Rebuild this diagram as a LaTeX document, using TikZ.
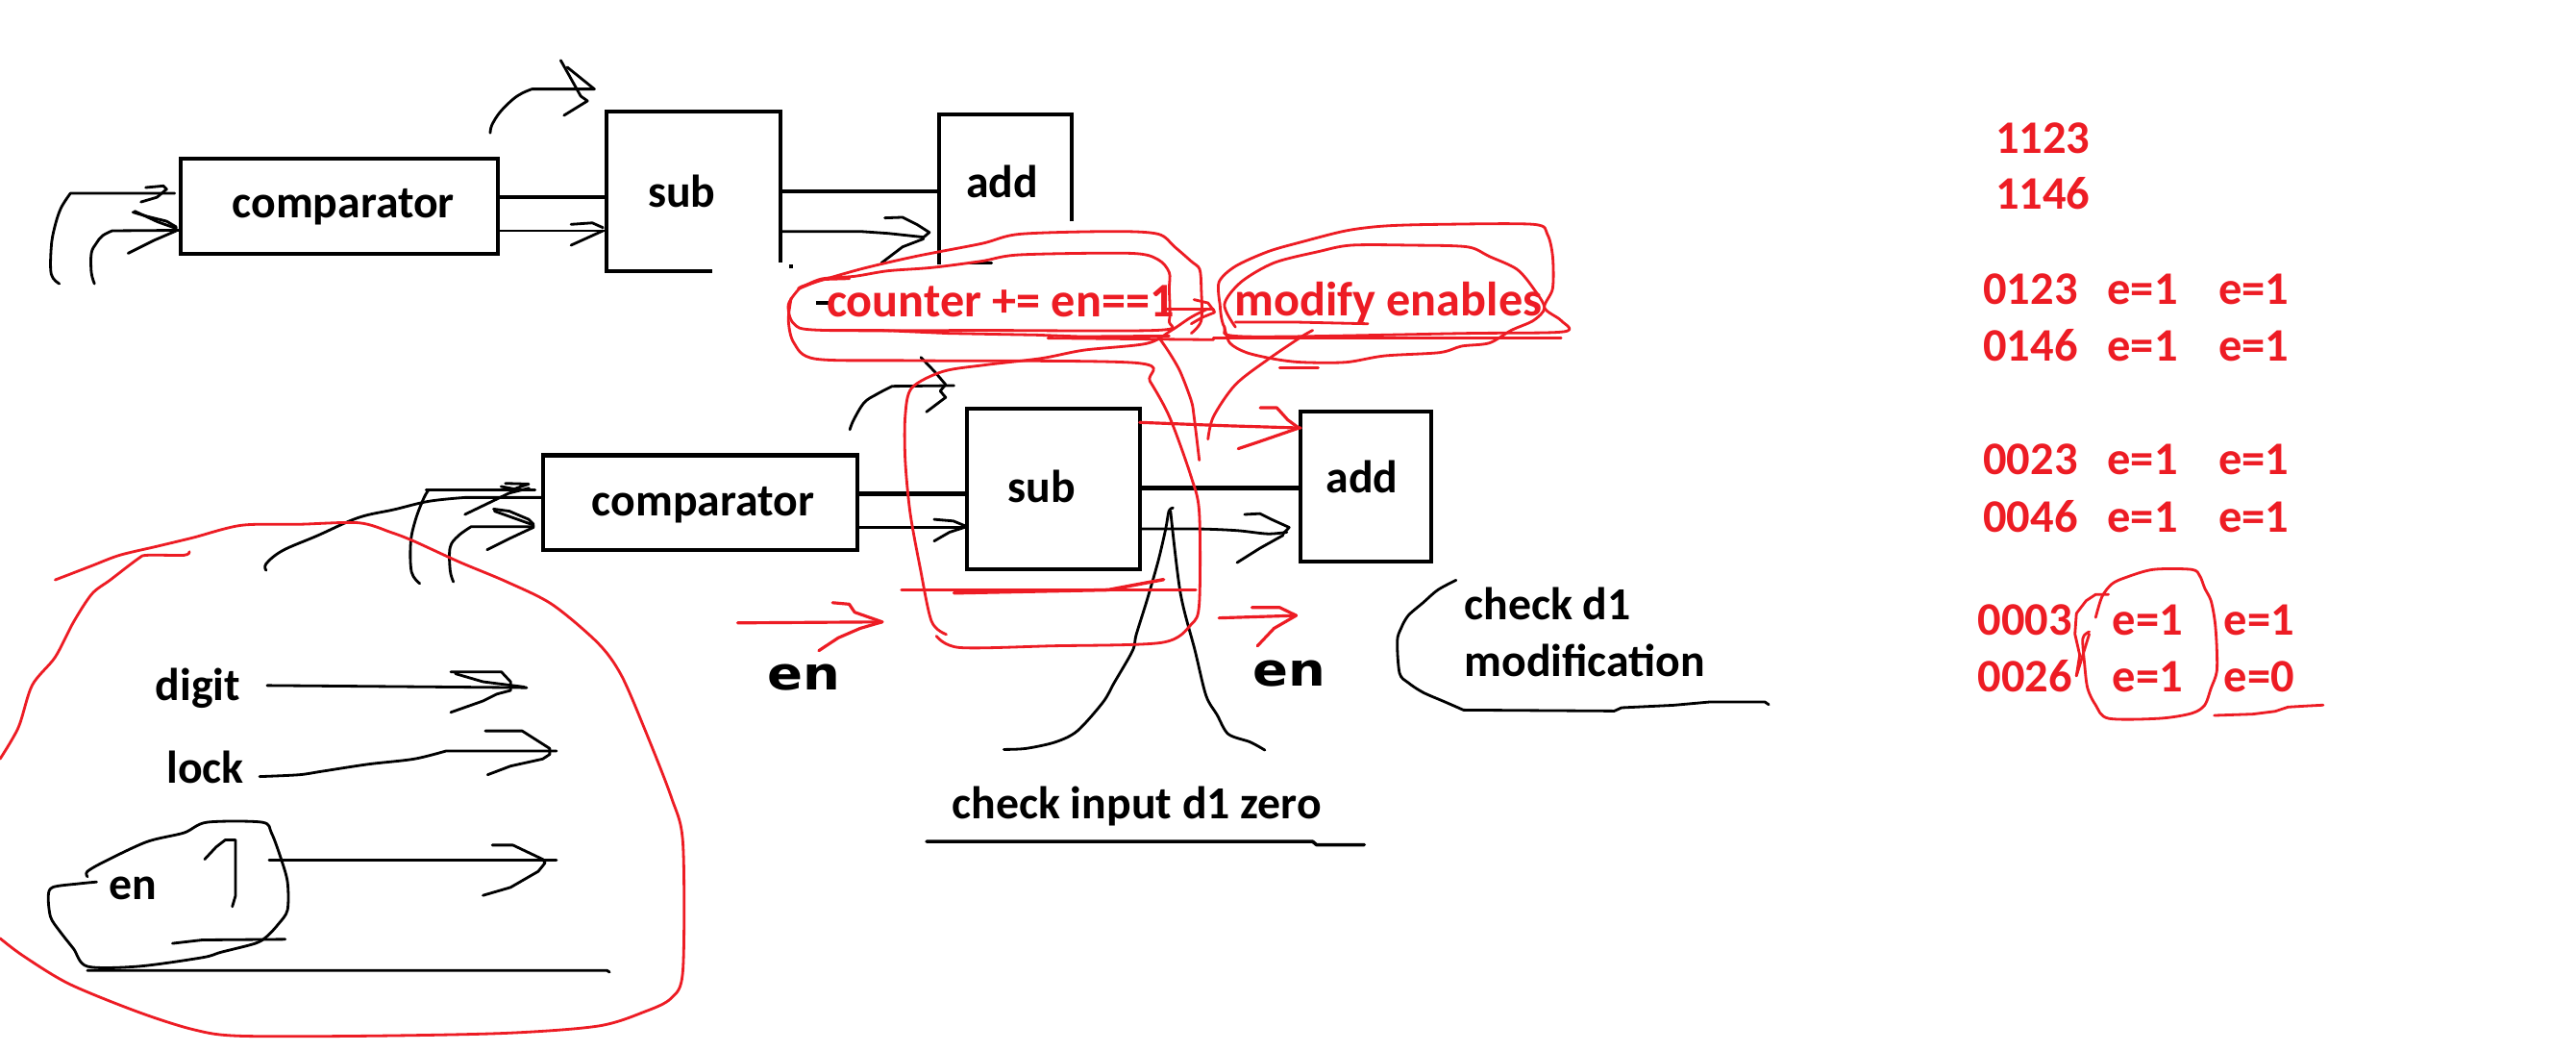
\documentclass[tikz,border=0pt]{standalone}
\usepackage{fontspec}
\setmainfont{Carlito}
\newfontfamily\vfont{DejaVu Sans}
\usetikzlibrary{calc}
\definecolor{sred}{RGB}{237,28,36}
\def\pu{0.0171cm}
\begin{document}
\begin{tikzpicture}[x=0.0171cm, y=-0.0171cm,
  boxline/.style={line width=1.2pt, line join=miter},
  bus/.style={line width=1.2pt},
  ink/.style={line width=0.8pt, line join=round, line cap=round},
  rink/.style={draw=sred, line width=0.8pt, line join=round, line cap=round},
  rthick/.style={draw=sred, line width=1pt, line cap=round},
  lbl/.style={inner sep=0pt, anchor=base, font=\fontsize{13.6}{16}\selectfont\bfseries},
  rlbl/.style={inner sep=0pt, anchor=base, text=sred, font=\fontsize{14.3}{17}\selectfont\bfseries},
  num/.style={inner sep=0pt, anchor=base west, text=sred, font=\fontsize{13.8}{16}\selectfont\bfseries},
  enlbl/.style={inner sep=0pt, anchor=base, font=\vfont\fontsize{13.5}{15}\selectfont\bfseries},
  blk/.style={inner sep=0pt, outer sep=0pt}]
\useasboundingbox (0,0) rectangle (1568,639);
\fill[white] (0,0) rectangle (1568,639);

% ---------------- top block ----------------
\node[blk, draw, boxline, minimum width=193*\pu, minimum height=58*\pu] (cmpA) at (206.5,125.5) {};
\node[blk, minimum width=106*\pu, minimum height=97*\pu] (subA) at (422,116.5) {};
\node[blk, minimum width=80.7*\pu, minimum height=91.4*\pu] (addA) at (612,115.3) {};
\draw[boxline] ($(subA.south east)+(0,-5.5)$) -- (subA.north east) -- (subA.north west) -- (subA.south west) -- ($(subA.south west)+(64.5,0)$);
\draw[boxline] ($(addA.south east)+(0,-26.4)$) -- (addA.north east) -- (addA.north west) -- (addA.south west);
\draw[ink] ($(addA.south west)+(19,-1)$) -- ($(addA.south west)+(32,-1)$);
\draw[line width=1.2pt] ($(subA.south east)+(6.5,-4)$) -- ($(subA.south east)+(6.5,-1.5)$);
\node[lbl] (cmpAt) at (209,132.5) {comparator};
\node[lbl] (subAt) at (415,125.8) {sub};
\node[lbl] (addAt) at (610,120) {add};

\draw[bus] (cmpA.east |- 0,120) -- (subA.west |- 0,120);
\draw[ink] (cmpA.east |- 0,140.4) -- (subA.west |- 0,140.4);
\draw[ink] (347.6,136.5) -- (360.5,135.6) -- (367,138.5);
\draw[ink] (347.6,149.2) -- (358.4,144.3) -- (367,140.4);
\draw[bus] (subA.east |- 0,116.4) -- (addA.west |- 0,116.4);
\draw[ink] (subA.east |- 0,140.8) -- (523.6,140.8) -- (540.8,142) -- (562.2,144.3);
\draw[ink] (538.6,132.6) -- (549.4,132.2) -- (558,136.5) -- (565.7,141.4) -- (562.2,144.3);
\draw[ink] (536.5,160) -- (549.4,150.2) -- (562.2,145.3);

% inputs of top comparator
\draw[ink] plot[smooth, tension=0.6] coordinates {(36.1,172.6) (31.2,166.8) (31.2,150.2) (33.2,138.5) (37,126.8) (42.9,117.6)} -- (106.3,117.6);
\draw[ink] (88.7,114.1) -- (99.5,113.1) -- (101.4,115.1) -- (95.6,120) -- (85.8,122.9);
\draw[ink] plot[smooth, tension=0.6] coordinates {(57.5,172.6) (55.6,165.8) (55.6,154.1) (58.5,148.2) (62.4,143.4) (68.3,140.4)} -- (cmpA.west |- 0,140.1);
\draw[ink] (80.9,129.1) -- (89.7,131.7) -- (101.4,134.6) -- (107.3,138.1);
\draw[ink] (82,128.5) -- (96,135) -- (107.3,139);
\draw[ink] (78,154.1) -- (93.6,146.3) -- (107.3,140.4);
% arrow above
\draw[ink] plot[smooth, tension=0.6] coordinates {(298.4,80.9) (299.4,76.1) (304.3,68.3) (312.1,60.5) (318,56.6) (323.8,54.2)} -- (361.8,54.2);
\draw[ink] (341.3,36.7) -- (353.5,58.5) -- (357.6,61.4) -- (343.3,70.2);
\draw[ink] (345.3,40.9) -- (361.8,54.2);
\draw[line width=1.2pt] (496.7,184.3) -- (506.8,184.3);

% ---------------- lower block ----------------
\node[blk, draw, boxline, minimum width=191.4*\pu, minimum height=57.5*\pu] (cmpB) at (426.3,305.8) {};
\node[blk, draw, boxline, minimum width=105*\pu, minimum height=97.5*\pu] (subB) at (641.2,297.5) {};
\node[blk, draw, boxline, minimum width=79.3*\pu, minimum height=91.5*\pu] (addB) at (831.4,296) {};
\node[lbl] (cmpBt) at (428,313.6) {comparator};
\node[lbl] (subBt) at (634,305.8) {sub};
\node[lbl] (addBt) at (829,300) {add};

\draw[bus] (cmpB.east |- 0,300.4) -- (subB.west |- 0,300.4);
\draw[ink] (cmpB.east |- 0,320.8) -- (subB.west |- 0,320.8);
\draw[ink] (568.6,316) -- (580.3,317) -- (587.3,319.9);
\draw[ink] (568.6,329.2) -- (578,323.8) -- (587.3,320.8);
\draw[bus] (subB.east |- 0,296.9) -- (addB.west |- 0,296.9);
\draw[ink] plot[smooth, tension=0.5] coordinates {(694.6,321.8) (729.6,321.8) (753,322.8) (771.6,324.8) (783.3,323.8)};
\draw[ink] (757.6,313) -- (766.9,312.5) -- (773.9,316) -- (784.7,320.9) -- (781,324.8);
\draw[ink] (753,342.3) -- (767,333.5) -- (781,325.7);
% arrow above sub
\draw[ink] plot[smooth, tension=0.6] coordinates {(517.3,261.4) (519.6,255.5) (526,245) (533.6,239.9) (543,235)} -- (580.7,234.6);
\draw[ink] (560.5,217.4) -- (569,226.2) -- (575.6,234) -- (572.3,237.9) -- (575.6,241.8) -- (563.9,250.6);
% inputs of lower comparator
\draw[ink] (259.4,298) -- (325.7,298);
\draw[ink] plot[smooth, tension=0.6] coordinates {(255.5,355) (250.5,348) (250,330) (253,316) (258,303) (261,298)};
\draw[ink] (307.6,294.1) -- (321.8,294.5) -- (313,297.5) -- (305,296);
\draw[ink] plot[smooth, tension=0.6] coordinates {(162,347) (162,343) (172,335) (193,326) (218,315) (240,310) (261,305) (283,302.7)} -- (cmpB.west |- 0,302.7);
\draw[ink] (283,313) -- (310,300) -- (322,297);
\draw[ink] plot[smooth, tension=0.6] coordinates {(276,354) (274,347) (274,333) (279,326) (286.7,320.5)} -- (324.8,320.5);
\draw[ink] (300.4,309.7) -- (310,311) -- (321.8,316) -- (324.8,319);
\draw[ink] (301,311) -- (324.8,319.5);
\draw[ink] (296.5,334.5) -- (310.1,327.7) -- (324.8,320.8);

\node[enlbl] (enL) at (489.3,419.7) {\scalebox{1.15}[1]{en}};
\node[enlbl] (enR) at (784.6,417.4) {\scalebox{1.15}[1]{en}};

% check input d1 zero
\draw[ink] plot[smooth, tension=0.5] coordinates {(714,309) (711.5,311) (709.5,322) (705,341.3) (698.3,364.7) (691.6,386.2) (689.4,395.9) (678.2,415.4) (671.5,427.1) (655.8,444.7) (642.4,451.5) (624.5,455.4) (611,456)};
\draw[ink] plot[smooth, tension=0.5] coordinates {(712.5,311) (718.5,360.8) (727.4,395.9) (734.1,423.2) (740.8,434.9) (747.6,446.6) (761,451.5) (769.9,456.4)};
\node[lbl] (chk0) at (692,498.3) {check input d1 zero};
\draw[ink, line width=1pt] (564,512) -- (799,512) -- (801.3,514) -- (830.4,514);
% check d1 modification
\node[lbl, anchor=base west] (chk1) at (891,376.8) {check d1};
\node[lbl, anchor=base west] (chk2) at (891,411.5) {modification};
\draw[ink] plot[smooth, tension=0.5] coordinates {(886.3,353) (875.2,358.9) (866.2,366.7) (857.2,374.5) (852.8,382.3) (850.5,390.1) (851.9,409.6) (857.2,415.4) (866.2,421.3) (879.6,427.1) (890.8,432)} -- (982.6,432.6) -- (987,430.6) -- (1018.4,429.1) -- (1040.7,427.1) -- (1074.3,427.1) -- (1076.6,428.7);

% ---------------- lower left ----------------
\node[lbl] (dig) at (120.4,426.5) {digit};
\node[lbl] (lck) at (125,476.8) {lock};
\node[lbl] (enb) at (81,547.3) {en};
\coordinate (digE) at (320.6,418.4);
\coordinate (lckE) at (338.7,456.9);
\coordinate (enE) at (338.7,523.4);
\draw[ink] ($(dig.east)+(16,-2)$) -- (digE);
\draw[ink] (274.4,408.8) -- (305.2,408.8) -- (310.8,414.8) -- (310.8,420.1) -- (302.4,422.3) -- (294,426.5) -- (274.4,433.4);
\draw[ink] (277.2,409.9) -- (294,414.8) -- (319.2,418);
\draw[ink] plot[smooth, tension=0.5] coordinates {(158,472.5) (182,471.4) (196,469.3) (224,465) (252,461.8) (271.6,456.9)} -- (lckE);
\draw[ink] (295.4,444.7) -- (317.8,444.7) -- (334.6,455.4) -- (334.6,459) -- (330.3,461.8) -- (310.8,466.1) -- (296.8,471.4);
\draw[ink] (163.8,523.4) -- (enE);
\draw[ink] (299.6,514.2) -- (312.2,514.2) -- (330.3,522.8) -- (331.8,525) -- (327.6,530.2) -- (310.8,539.9) -- (294,544.8);
\draw[ink] plot[smooth, tension=0.5] coordinates {(53.2,533.4) (53.2,530.2) (64.4,523.8) (89.6,512.1) (112,506.7) (126,500.3) (159.6,500.3) (165.2,506.7) (170.8,521.7) (175,536.6) (175,553.7) (169.4,562.3) (162.4,569.8) (155.4,574) (134.4,579.4) (123.2,582.6) (84,588) (53.2,588) (44.8,577.3) (36.4,566.6) (30.8,558) (29.4,545.2) (32.2,539.8) (47.6,537.7) (58.8,536.6)};
\draw[ink] (124.6,522.8) -- (131.6,515.3) -- (137.2,511) -- (143.3,511) -- (143.3,545.2) -- (141.4,551.6);
\draw[ink] (105,574) -- (123.2,571.9) -- (173.6,571.5);
\draw[ink] (53.2,590.5) -- (369.5,590.5) -- (371,591.5);

% ---------------- red annotations ----------------
\node[rlbl] (cnt) at (609,193) {counter += en==1};
\node[rlbl] (mod) at (845,192) {modify enables};
% counter loops
\draw[rink] plot[smooth, tension=0.5] coordinates {(486,176) (490,173.6) (523.6,163.8) (557.2,156) (597.5,148.2) (621,142.4) (678,140.8) (705,142.4) (715,150.2) (725.1,159) (730.2,163.8) (731.2,175.5) (731.2,195) (725.1,202.8)};
\draw[rink] plot[smooth, tension=0.5] coordinates {(486.6,175.5) (500,169.7) (520.2,168.1) (540.4,164.8) (567.3,162.8) (597.5,158.9) (621,155) (688.2,154.1) (705,158) (711.7,165.8) (711.7,175.5) (711.7,195) (705,200.9) (600,201) (500,200.9) (483.3,197) (479.9,185.3) (486.6,175.5)};
\draw[rink] (486.6,175.5) -- (500,170) -- (517,169.5);
% loop around lower sub
\draw[rink] plot[smooth, tension=0.5] coordinates {(481.6,181.4) (479.9,195) (483.3,208.7) (496.7,218.4) (557.2,219.4) (691.5,220.8) (700,232) (712,254) (725,290) (730,312) (730,367) (725,380) (707,391) (640,393) (584,394) (570,387)};
\draw[rink] plot[smooth, tension=0.5] coordinates {(576,386) (567,378) (560,345) (554,312) (551,280) (551,253) (555,236) (574,226) (600,222) (634,218) (660,213) (698,209) (713,201) (725,193) (735,188)};
\draw[rink] plot[smooth, tension=0.5] coordinates {(705,204.8) (711.7,214.5) (718.4,226.2) (725.1,243.8) (726.8,253.5) (730,280)};
% arrow between the two notes
\draw[rink] (708.3,188.2) -- (738.6,188.2);
\draw[rink] (726.8,182.3) -- (735.3,184.3) -- (739.3,189.6);
\draw[rink] (725.1,197) -- (731.8,193.1) -- (739.3,190.1);
% modify loops
\draw[rink] plot[smooth, tension=0.5] coordinates {(742.6,185.3) (742,171.6) (752,162) (772,153) (792.3,147.2) (819.2,140.4) (842.7,137.5) (876.3,136.5) (933.4,136.5) (941.8,142.4) (945.1,156) (945.1,175.5) (940.1,187.2) (950.2,195) (951.9,201.8) (893.1,202.8) (758.7,204.8) (745.3,198.9) (742.6,185.3)};
\draw[rink] plot[smooth, tension=0.5] coordinates {(752,199) (745.3,185.3) (755.4,171.6) (775.5,159.9) (802.4,153.1) (822.5,149.2) (859.5,149.2) (893.1,150.2) (906.5,156) (923.3,163.8) (933.4,175.5) (940.1,187.2) (933.4,195) (920,200.9) (906.5,208.7) (889.7,210.6) (876.3,214.5) (842.7,216.5) (819.2,220.4) (792.3,220.4) (775.5,218.4) (758.7,214.5) (748.6,208.7) (745.3,199)};
\draw[rink] (738.6,205.7) -- (950.2,205.7);
\draw[rink] (778.9,223.9) -- (802.4,223.9);
\draw[rink] (752,196) -- (789,196) -- (832.6,197);
\draw[rink] (500,201) -- (537,201) -- (577.3,202.8) -- (631,203.8) -- (658,204.8) -- (711.7,204.4);
\draw[rink] (637.8,205.7) -- (738.6,206.7);
\draw[rink] plot[smooth, tension=0.5] coordinates {(799,201) (792.3,204.8) (772.2,218.4) (752,234) (738.6,253.5) (735.3,267.2)};
% double lines under lower sub
\draw[rthick] (548.8,358.9) -- (727.8,358.9);
\draw[rthick] (580.7,360.8) -- (674.7,358.9) -- (708.3,352.6);
% red arrow sub -> add
\draw[rink, line width=0.9pt] (subB.east |- 0,257) -- (745.3,259) -- (addB.west |- 0,260.4);
\draw[rink, line width=0.9pt] (767.1,248.1) -- (777.2,248.1) -- (783.9,255.5) -- (790.6,260.4);
\draw[rink, line width=0.9pt] (753.7,273) -- (765.4,269.1) -- (790.6,260.4);
% red en arrows
\coordinate (rL) at (537,378.4);
\coordinate (rR) at (789,374.5);
\draw[rink, line width=0.9pt] (449,379) -- (rL);
\draw[rink, line width=0.9pt] (506.8,366.7) -- (516.9,367.6) -- (520.2,372.5) -- (rL);
\draw[rink, line width=0.9pt] (498.4,395.9) -- (510.2,388.1) -- (523.6,382.3) -- (rL);
\draw[rink, line width=0.9pt] (742,376) -- (rR);
\draw[rink, line width=0.9pt] (762,369.6) -- (778.9,369.6) -- (rR);
\draw[rink, line width=0.9pt] (765.4,393) -- (775.5,382.3) -- (rR);
% big loop lower left
\draw[rink] plot[smooth, tension=0.5] coordinates {(33.6,352.8) (42,349.6) (56,344.2) (72.8,337.8) (95.2,332.5) (117.6,327.1) (147,319.6) (182,319) (218.4,318.1) (238,323.9) (252,329.3) (280,342.1) (308,353.8) (336,367.7) (364,391.3) (378,410.5) (392,442.6) (408.7,485.3) (415.7,513.1) (415.7,590.1) (408.7,607.2) (392,615.7) (364,624.3) (308,628.6) (224,630.3) (145.6,630.3) (117.6,626.4) (84,615.7) (42,598.6) (14,581.5) (0,570.9)};
\draw[rink] plot[smooth, tension=0.5] coordinates {(0,461.8) (11.2,442.6) (19.6,416.9) (33.6,399.8) (44.8,378.4) (56,361.3) (67.2,352.8) (84,340) (89.6,337.8) (112,337.8) (115.3,335.7)};

% ---------------- numbers ----------------
\node[num] (n1) at (1214.2,93.5) {1123};
\node[num] (n2) at (1214.2,127.5) {1146};
\node[num] (n3) at (1206.8,185.4) {0123};
\node[num] (n3b) at (1282.4,185.4) {e=1};
\node[num] (n3c) at (1350.1,185.4) {e=1};
\node[num] (n4) at (1206.8,219.6) {0146};
\node[num] (n4b) at (1282.4,219.6) {e=1};
\node[num] (n4c) at (1350.1,219.6) {e=1};
\node[num] (n5) at (1206.8,288.9) {0023};
\node[num] (n5b) at (1282.4,288.9) {e=1};
\node[num] (n5c) at (1350.1,288.9) {e=1};
\node[num] (n6) at (1206.8,323.7) {0046};
\node[num] (n6b) at (1282.4,323.7) {e=1};
\node[num] (n6c) at (1350.1,323.7) {e=1};
\node[num] (n7) at (1203.5,386.6) {0003};
\node[num] (n7b) at (1285.4,386.6) {e=1};
\node[num] (n7c) at (1353.3,386.6) {e=1};
\node[num] (n8) at (1203.5,420.8) {0026};
\node[num] (n8b) at (1285.4,420.8) {e=1};
\node[num] (n8c) at (1353.3,420.8) {e=0};
\draw[rink] plot[smooth, tension=0.5] coordinates {(1275.6,375.7) (1279.5,363) (1285.4,355.4) (1293.2,351.6) (1310.7,346.5) (1334.1,346.5) (1339,350.4) (1342,357.9) (1345.8,365.5) (1348.2,378.2) (1349.3,393.4) (1349.3,408.7) (1345.8,418.8) (1342,429) (1334.1,434) (1314.6,437.1) (1283.4,437.1) (1275.6,429) (1270.7,418.8) (1268.8,403.6) (1267.8,388.4) (1271.7,384.4)};
\draw[rink] (1283.4,361.7) -- (1275.6,361.7) -- (1269.8,365.5) -- (1263.9,373.2) -- (1263,385.8) -- (1265.9,398.5) -- (1263.9,411.2);
\draw[rink] (1271.7,385.8) -- (1263.9,411.2);
\draw[rink] (1347.8,435.3) -- (1371.2,434.5) -- (1384.8,432.8) -- (1392.7,430.2) -- (1404.4,429.5) -- (1414.1,429);
\end{tikzpicture}
\end{document}
